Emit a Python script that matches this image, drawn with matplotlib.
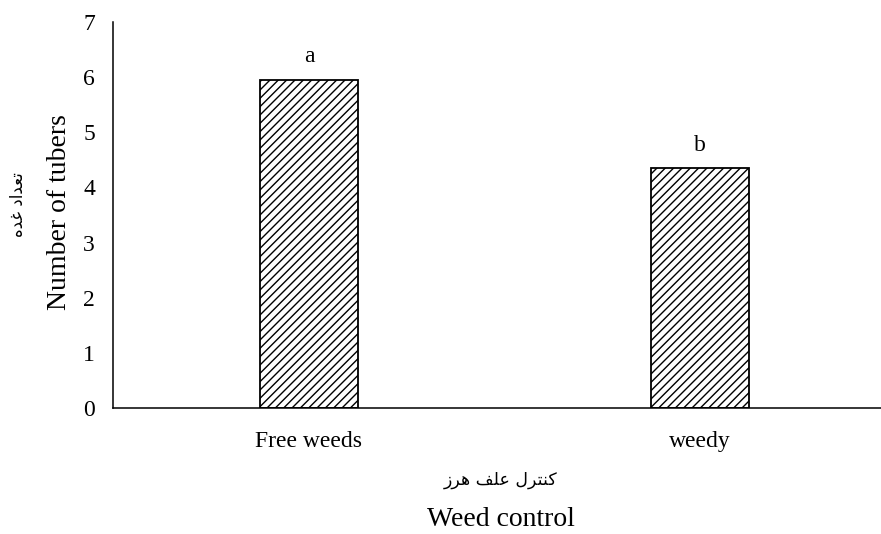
import matplotlib.pyplot as plt

# bar chart data
categories = ['Free weeds', 'weedy']
tubers = [5.95, 4.35]
letters = ['a', 'b']
yticks = [0, 1, 2, 3, 4, 5, 6, 7]

# persian labels, written as presentation forms in visual order (matplotlib does no shaping)
fa_ylabel = '\uFEE9\uFEAA\uFECF \uFEA9\uFE8D\uFEAA\uFECC\uFE97'  # تعداد غده
fa_xlabel = '\uFEAF\uFEAE\uFEEB \uFED2\uFEE0\uFECB \uFEDD\uFEAE\uFE98\uFEE8\uFB90'  # کنترل علف هرز

plt.rcParams['font.family'] = ['Liberation Serif', 'DejaVu Sans']
plt.rcParams['hatch.linewidth'] = 1.0
plt.rcParams['hatch.color'] = '#404040'


def main():
    fig = plt.figure(figsize=(8.81, 5.34), dpi=100)
    ax = fig.add_axes([0.1283, 0.236, 0.8717, 0.7228])

    x = list(range(len(categories)))
    ax.bar(x, tubers, width=0.25, color='white', edgecolor='black',
           linewidth=1.3, hatch='////')

    # significance letters above the bars
    for xi, v, lab in zip(x, tubers, letters):
        ax.annotate(lab, (xi, v), xytext=(0, 16.5), textcoords='offset points',
                    ha='center', va='center', fontsize=17)

    ax.set_xlim(-0.501, 1.463)
    ax.set_ylim(0, 7)
    ax.set_xticks(x)
    ax.set_xticklabels(categories, fontsize=17)
    ax.set_yticks(yticks)
    ax.set_yticklabels([str(t) for t in yticks], fontsize=17)
    ax.tick_params(axis='both', length=0)
    ax.tick_params(axis='x', pad=16.5)
    ax.tick_params(axis='y', pad=13)

    for side in ['top', 'right']:
        ax.spines[side].set_visible(False)
    for side in ['left', 'bottom']:
        ax.spines[side].set_linewidth(1.1)

    # axis titles placed by hand, two languages each
    fig.text(0.068, 1 - 212 / 534, 'Number of tubers', rotation=90,
             ha='center', va='center', fontsize=20)
    fig.text(0.020, 1 - 205 / 534, fa_ylabel, rotation=90,
             ha='center', va='center', fontsize=12, family=['DejaVu Sans'])
    fig.text(0.5687, 1 - 480 / 534, fa_xlabel, ha='center', va='center',
             fontsize=12.5, family=['DejaVu Sans'])
    fig.text(0.5687, 1 - 520 / 534, 'Weed control', ha='center', va='center',
             fontsize=20)

    fig.savefig('out.png', dpi=100)


main()
